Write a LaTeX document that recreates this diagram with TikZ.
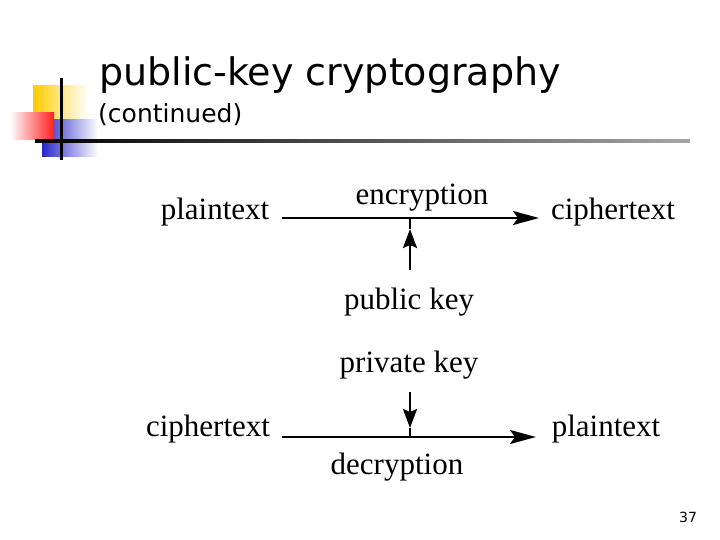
\documentclass[tikz,border=0pt]{standalone}
\usepackage{fontspec}
\setmainfont{Liberation Serif}
\newfontfamily\titlefont{DejaVu Sans}
\usetikzlibrary{arrows.meta}
\definecolor{logoyellow}{RGB}{255,204,0}
\definecolor{logored}{RGB}{255,30,30}
\definecolor{logoblue}{RGB}{40,40,200}
\tikzset{
  lbl/.style={font=\fontsize{31}{31}\selectfont, inner sep=0pt, anchor=base},
  flow/.style={line width=2.4pt, -{Stealth[length=26pt,width=14pt,inset=5pt]}},
  stem/.style={line width=2.4pt},
  keyhead/.style={line width=2.4pt, -{Stealth[length=19pt,width=14pt,inset=3pt]}}
}
\begin{document}
\begin{tikzpicture}[x=1pt,y=-1pt]
\useasboundingbox (0,0) rectangle (720,540);
% logo
\shade[left color=logoyellow, right color=white] (33,86) rectangle (88,122);
\shade[left color=logoblue, right color=white] (42,120) rectangle (98,157);
\shade[left color=white, right color=logored] (10,113) rectangle (54,140);
\shade[left color=black, right color=black!35] (35,140) rectangle (690,142.5);
\fill[black] (60,78) rectangle (62.5,160);
% title
\node[font=\titlefont\fontsize{38}{38}\selectfont, anchor=base west, inner sep=0pt] (title) at (99,86) {public-key cryptography};
\node[font=\titlefont\fontsize{25}{25}\selectfont, anchor=base west, inner sep=0pt] (sub) at (98,123) {(continued)};
% top diagram
\node[lbl] (pt1) at (215,220) {plaintext};
\node[lbl] (ct1) at (613,220) {ciphertext};
\node[lbl] (enc) at (422,205) {encryption};
\node[lbl] (pub) at (409,309) {public key};
\coordinate (a1) at (282,218);
\coordinate (b1) at (539,218);
\coordinate (j1) at (410,218);
\coordinate (s1) at (410,270);
\coordinate (h1) at (410,229);
\draw[flow] (a1) -- (b1);
\draw[keyhead] (s1) -- (h1);
\draw[stem] (h1) -- (j1);
% bottom diagram
\node[lbl] (pk) at (409,372) {private key};
\node[lbl] (ct2) at (208,436) {ciphertext};
\node[lbl] (pt2) at (606,436) {plaintext};
\node[lbl] (dec) at (397,474) {decryption};
\coordinate (a2) at (282,437);
\coordinate (b2) at (536,437);
\coordinate (j2) at (410,437);
\coordinate (s2) at (410,392);
\coordinate (h2) at (410,428);
\draw[flow] (a2) -- (b2);
\draw[keyhead] (s2) -- (h2);
\draw[stem] (h2) -- (j2);
% page number
\node[font=\titlefont\fontsize{14}{14}\selectfont, anchor=base, inner sep=0pt] (pg) at (688,522) {37};
\end{tikzpicture}
\end{document}
